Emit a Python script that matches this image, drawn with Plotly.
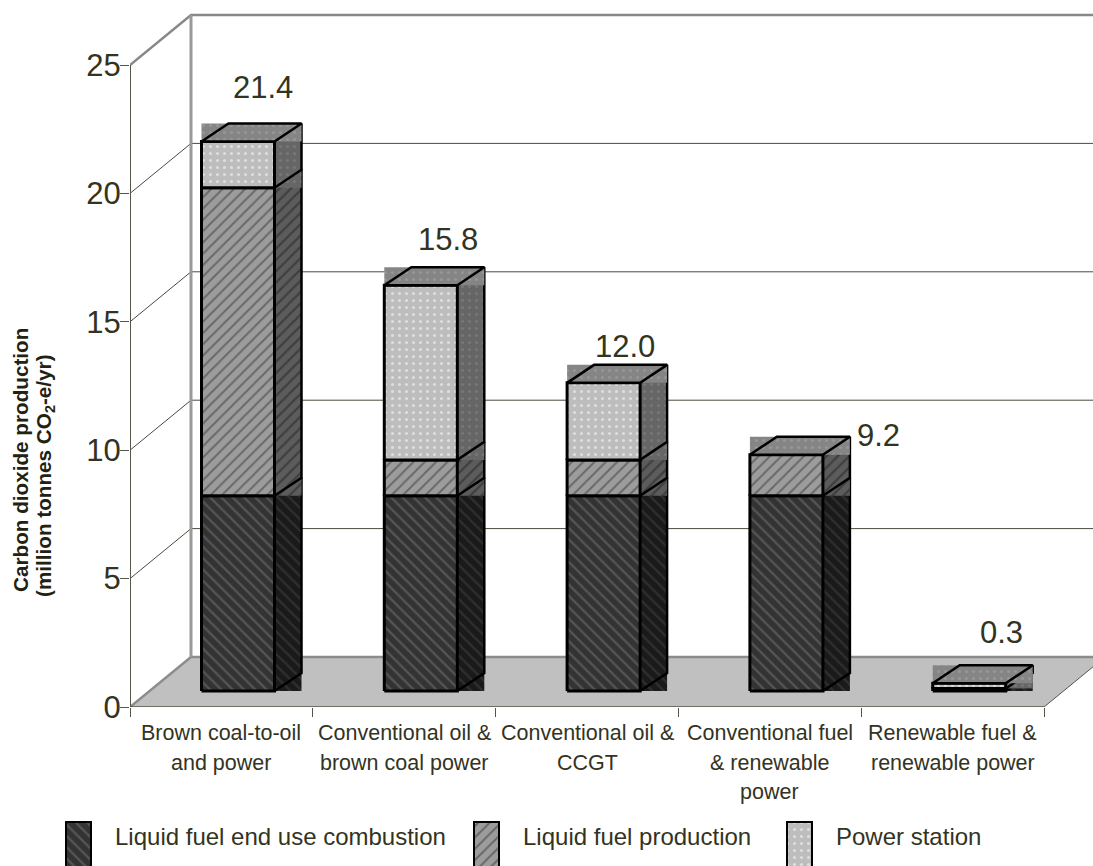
import plotly.graph_objects as go

# Emission components per scenario (million tonnes CO2-e/yr)
categories = [
    ["Brown coal-to-oil", "and power"],
    ["Conventional oil &", "brown coal power"],
    ["Conventional oil &", "CCGT"],
    ["Conventional fuel", "& renewable", "power"],
    ["Renewable fuel &", "renewable power"],
]
end_use = [7.6, 7.6, 7.6, 7.6, 0.1]
production = [12.0, 1.4, 1.4, 1.6, 0.0]
power_station = [1.8, 6.8, 3.0, 0.0, 0.2]
totals = [21.4, 15.8, 12.0, 9.2, 0.3]
total_labels = ["21.4", "15.8", "12.0", "9.2", "0.3"]
y_ticks = [0, 5, 10, 15, 20, 25]
legend_names = ["Liquid fuel end use combustion", "Liquid fuel production", "Power station"]

# Label offsets from the bar's top front edge (pixels)
label_dx = [61, 64, 58, 129, 69]
label_dy = [54, 46, 36, 19, 51]

W, H = 1093, 866
M_L, M_T, M_B = 130, 10, 159
PX_PER_CAT = 182.8
PX_PER_VAL = 25.68

# Oblique projection: wall and bar depth expressed in axis units
WALL_DX = 61 / PX_PER_CAT
WALL_DV = 50 / PX_PER_VAL
BAR_LEFT = 71.5 / PX_PER_CAT
BAR_WIDTH = 73 / PX_PER_CAT
BAR_LIFT = 16 / PX_PER_VAL
SIDE_DX = 27 / PX_PER_CAT
SIDE_DV = 18 / PX_PER_VAL

TEXT = "#333322"
FONT = "Liberation Sans, Arial, sans-serif"

STYLES = {
    "end_use": dict(
        front=dict(shape="\\", bgcolor="#333333", fgcolor="#777777", size=8, solidity=0.28),
        side=dict(shape="\\", bgcolor="#1a1a1a", fgcolor="#444444", size=8, solidity=0.28),
    ),
    "production": dict(
        front=dict(shape="/", bgcolor="#9c9c9c", fgcolor="#333333", size=8, solidity=0.24),
        side=dict(shape="/", bgcolor="#5c5c5c", fgcolor="#222222", size=8, solidity=0.28),
    ),
    "power": dict(
        front=dict(shape=".", bgcolor="#bdbdbd", fgcolor="#ffffff", size=7, solidity=0.15),
        side=dict(shape=".", bgcolor="#666666", fgcolor="#888888", size=7, solidity=0.15),
    ),
}
TOP_PATTERN = dict(shape=".", bgcolor="#858585", fgcolor="#a8a8a8", size=7, solidity=0.15)

fig = go.Figure()


def line(xs, ys, color, width):
    fig.add_trace(go.Scatter(x=xs, y=ys, mode="lines", line=dict(color=color, width=width),
                             hoverinfo="skip", showlegend=False))


def patch(xs, ys, pattern, axes=("x", "y")):
    fig.add_trace(go.Scatter(x=xs + xs[:1], y=ys + ys[:1], mode="lines", line=dict(width=0),
                             fill="toself", fillcolor=pattern["bgcolor"], fillpattern=pattern,
                             xaxis=axes[0], yaxis=axes[1], hoverinfo="skip", showlegend=False))


# Floor
n_cat = len(categories)
fig.add_trace(go.Scatter(
    x=[0, WALL_DX, n_cat + WALL_DX, n_cat, 0], y=[0, WALL_DV, WALL_DV, 0, 0],
    mode="lines", line=dict(width=0), fill="toself", fillcolor="#c0c0c0",
    hoverinfo="skip", showlegend=False))
line([n_cat, n_cat + WALL_DX], [0, WALL_DV], "#55554a", 1)

# Gridlines running along the side and back walls
x_end = (W - M_L) / PX_PER_CAT
for v in y_ticks[1:-1]:
    line([0, WALL_DX, x_end], [v, v + WALL_DV, v + WALL_DV], "#4a4a3c", 1)
top_v = y_ticks[-1]
line([0, WALL_DX, x_end], [top_v, top_v + WALL_DV, top_v + WALL_DV], "#888888", 2.5)
line([0, WALL_DX, x_end], [0, WALL_DV, WALL_DV], "#8c8c8c", 2.5)
line([WALL_DX, WALL_DX], [WALL_DV, top_v + WALL_DV], "#9a9a9a", 3)

# Front axis lines
line([0, 0], [0, top_v], "#55554a", 2)
line([0, n_cat], [0, 0], "#55554a", 1.5)

# Stacked bars, bottom segment first
for i in range(n_cat):
    x0 = i + BAR_LEFT
    x1 = x0 + BAR_WIDTH
    x2 = x1 + SIDE_DX
    base = BAR_LIFT
    segments = [(end_use[i], "end_use"), (production[i], "production"), (power_station[i], "power")]
    for value, key in segments:
        if value <= 0:
            continue
        top = base + value
        style = STYLES[key]
        patch([x1, x2, x2, x1], [base, base, top + SIDE_DV, top + SIDE_DV], style["side"])
        patch([x0, x1, x1, x0], [base, base, top, top], style["front"])
        line([x1, x2, x2, x1], [base, base + SIDE_DV, top + SIDE_DV, top], "#000000", 2.5)
        line([x0, x1, x1, x0, x0], [base, base, top, top, base], "#000000", 3)
        base = top
    patch([x0, x2, x2, x0], [base, base, base + SIDE_DV, base + SIDE_DV], TOP_PATTERN)
    line([x0, x1, x2, x0 + SIDE_DX, x0], [base, base, base + SIDE_DV, base + SIDE_DV, base], "#000000", 2.5)

annotations = []

# Value labels above each bar
for i, total in enumerate(totals):
    annotations.append(dict(
        x=i + BAR_LEFT, y=BAR_LIFT + total, xref="x", yref="y", text=total_labels[i],
        showarrow=False, xanchor="center", yanchor="middle", xshift=label_dx[i], yshift=label_dy[i],
        font=dict(family=FONT, size=31, color=TEXT)))

# Category labels, one annotation per line for the wide leading
for i, lines in enumerate(categories):
    for j, text in enumerate(lines):
        annotations.append(dict(
            x=i + 0.5, y=0, xref="x", yref="y", text=text, showarrow=False,
            xanchor="center", yanchor="middle", yshift=-26 - 29.5 * j,
            font=dict(family=FONT, size=21.5, color=TEXT)))

# Axis title, two rotated lines
for text, xpos, ypos in (("Carbon dioxide production", 20, 460),
                         ("(million tonnes CO<sub>2</sub>-e/yr)", 45, 476)):
    annotations.append(dict(
        x=xpos, y=ypos, xref="x2", yref="y2", text="<b>" + text + "</b>", textangle=-90,
        showarrow=False, xanchor="center", yanchor="middle",
        font=dict(family=FONT, size=20.7, color="#222211")))

# Legend drawn on a full-page pixel overlay
legend_swatch_x = [66, 474, 787]
legend_text_x = [113, 521, 834]
for x, tx, name, key in zip(legend_swatch_x, legend_text_x, legend_names, ["end_use", "production", "power"]):
    patch([x, x + 25, x + 25, x], [822, 822, 868, 868], STYLES[key]["front"], axes=("x2", "y2"))
    fig.add_trace(go.Scatter(x=[x, x, x + 25, x + 25], y=[868, 822, 822, 868], mode="lines",
                             line=dict(color="#000000", width=2), xaxis="x2", yaxis="y2",
                             hoverinfo="skip", showlegend=False))
    annotations.append(dict(
        x=tx, y=836, xref="x2", yref="y2", text=name, showarrow=False,
        xanchor="left", yanchor="middle", font=dict(family=FONT, size=24, color=TEXT)))

plot_h = H - M_T - M_B
fig.update_layout(
    width=W, height=H, autosize=False,
    margin=dict(l=0, r=0, t=0, b=0, pad=0),
    paper_bgcolor="#ffffff", plot_bgcolor="rgba(0,0,0,0)",
    showlegend=False, hovermode=False,
    annotations=annotations,
    xaxis=dict(
        domain=[M_L / W, 1], range=[0, x_end], tickvals=list(range(n_cat + 1)),
        ticktext=[""] * (n_cat + 1), automargin=False,
        ticks="outside", ticklen=9, tickcolor="#55554a", tickwidth=1,
        showgrid=False, zeroline=False, showline=False),
    yaxis=dict(
        domain=[M_B / H, 1 - M_T / H], range=[0, plot_h / PX_PER_VAL], tickvals=y_ticks,
        ticks="outside", ticklen=9, ticklabelstandoff=-7, automargin=False,
        tickcolor="#55554a", tickwidth=1, showgrid=False, zeroline=False, showline=False,
        tickfont=dict(family=FONT, size=31, color=TEXT)),
    xaxis2=dict(range=[0, W], visible=False, anchor="y2", domain=[0, 1], fixedrange=True,
                automargin=False),
    yaxis2=dict(range=[H, 0], visible=False, anchor="x2", domain=[0, 1], fixedrange=True,
                automargin=False),
)
fig.write_html("out.html")
